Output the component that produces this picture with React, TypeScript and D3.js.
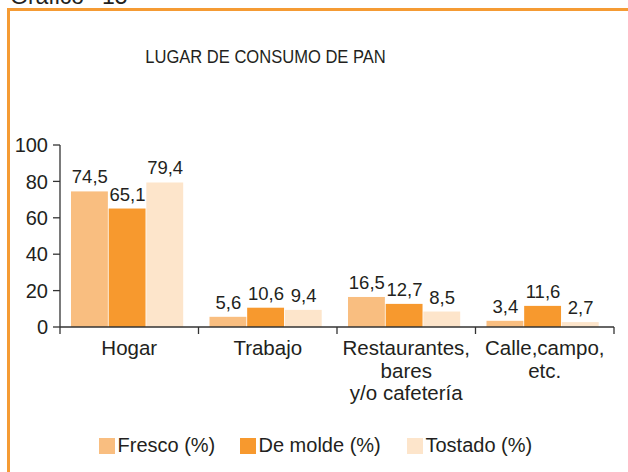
import React from "react";
import * as d3 from "d3";

const categories = ["Hogar", "Trabajo", "Restaurantes, bares y/o cafetería", "Calle,campo, etc."];
const categoryLines = [["Hogar"], ["Trabajo"], ["Restaurantes,", "bares", "y/o cafetería"], ["Calle,campo,", "etc."]];
const seriesNames = ["Fresco (%)", "De molde (%)", "Tostado (%)"];
const fresco = [74.5, 5.6, 16.5, 3.4];
const deMolde = [65.1, 10.6, 12.7, 11.6];
const tostado = [79.4, 9.4, 8.5, 2.7];
const valueLabels = [
  ["74,5", "5,6", "16,5", "3,4"],
  ["65,1", "10,6", "12,7", "11,6"],
  ["79,4", "9,4", "8,5", "2,7"],
];
const yTicks = [0, 20, 40, 60, 80, 100];
const title = "LUGAR DE CONSUMO DE PAN";

const colors = ["#F9BE80", "#F7992E", "#FDE5CB"];
const FONT = "'Liberation Sans', Arial, sans-serif";
const TXT = "#231F20";

export default function App() {
  const W = 628, H = 472;
  const series = [fresco, deMolde, tostado];
  const y = d3.scaleLinear().domain([0, 100]).range([327, 145]);
  const x0 = d3.scaleBand<string>().domain(categories).range([60, 614]).paddingInner(0).paddingOuter(0);
  const x1 = d3.scaleBand<number>().domain([0, 1, 2]).range([11, 124]);
  const bw = x1.bandwidth();

  return (
    <svg width={W} height={H} style={{ position: "absolute", left: 0, top: 0, background: "#fff" }} fontFamily={FONT}>
      <rect x={0} y={0} width={W} height={H} fill="#fff" />
      {/* Header, cut off */}
      <text x={10} y={4} fontSize={23} fill={TXT}>Gráfico</text>
      <text x={102} y={4} fontSize={23} fill={TXT}>15</text>
      {/* Orange frame */}
      <line x1={8.5} y1={9.5} x2={W} y2={9.5} stroke="#F59B34" strokeWidth={3} />
      <line x1={8.5} y1={8} x2={8.5} y2={H} stroke="#F59B34" strokeWidth={3} />

      <text transform="translate(265.5,63) scale(0.89,1)" textAnchor="middle" fontSize={18.6} fill={TXT}>{title}</text>

      {/* Bars */}
      {categories.map((c, i) => (
        <g key={c}>
          {series.map((s, j) => {
            const bx = (x0(c) as number) + (x1(j) as number);
            const top = y(s[i]);
            return (
              <g key={j}>
                <rect x={bx} y={top} width={bw - 0.8} height={y(0) - top} fill={colors[j]} />
                <text x={bx + bw / 2} y={top - 8} textAnchor="middle" fontSize={18.5} fill={TXT}>
                  {valueLabels[j][i]}
                </text>
              </g>
            );
          })}
        </g>
      ))}

      {/* Y axis */}
      <line x1={60} y1={y(100)} x2={60} y2={y(0)} stroke="#333" strokeWidth={1.3} />
      {yTicks.map((t) => (
        <g key={t}>
          <line x1={53} y1={y(t)} x2={60} y2={y(t)} stroke="#333" strokeWidth={1.3} />
          <text x={48} y={y(t)} dy="0.36em" textAnchor="end" fontSize={20} fill={TXT}>{t}</text>
        </g>
      ))}

      {/* X axis */}
      <line x1={60} y1={y(0)} x2={614} y2={y(0)} stroke="#333" strokeWidth={1.3} />
      {[...categories.map((c) => x0(c) as number), 614].map((p, k) => (
        <line key={k} x1={p} y1={y(0)} x2={p} y2={y(0) + 7} stroke="#333" strokeWidth={1.3} />
      ))}
      {categories.map((c, i) => (
        <text key={c} x={(x0(c) as number) + x0.bandwidth() / 2} y={355} textAnchor="middle" fontSize={20.5} fill={TXT}>
          {categoryLines[i].map((ln, k) => (
            <tspan key={k} x={(x0(c) as number) + x0.bandwidth() / 2} dy={k === 0 ? 0 : 22.5}>{ln}</tspan>
          ))}
        </text>
      ))}

      {/* Legend */}
      {seriesNames.map((n, j) => {
        const lx = [99, 240, 407][j];
        return (
          <g key={n}>
            <rect x={lx} y={438} width={16} height={16} fill={colors[j]} />
            <text x={lx + 18.5} y={452} fontSize={20} fill={TXT}>{n}</text>
          </g>
        );
      })}
    </svg>
  );
}
